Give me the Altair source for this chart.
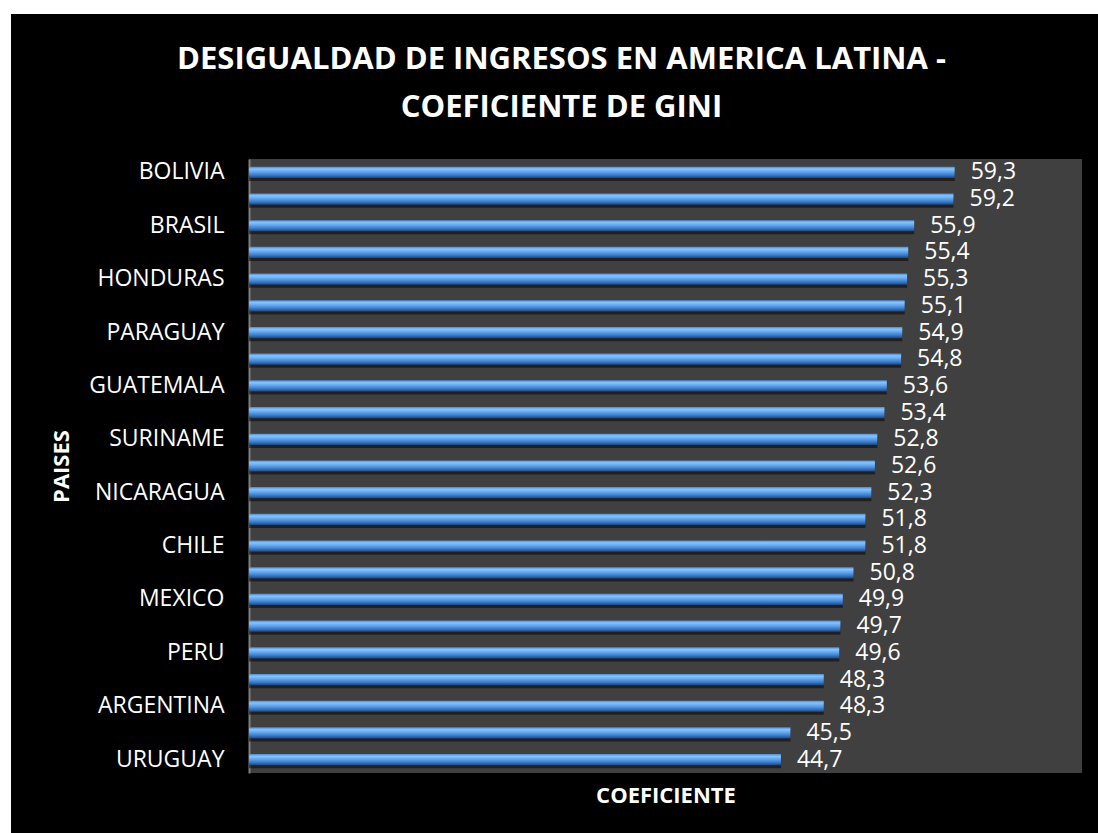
import altair as alt
import pandas as pd

paises = [
    "BOLIVIA", "HAITI", "BRASIL", "COLOMBIA", "HONDURAS", "PANAMA",
    "PARAGUAY", "ECUADOR", "GUATEMALA", "REP. DOMINICANA", "SURINAME",
    "GUYANA", "NICARAGUA", "COSTA RICA", "CHILE", "EL SALVADOR", "MEXICO",
    "JAMAICA", "PERU", "VENEZUELA", "ARGENTINA", "TRINIDAD Y TOBAGO", "URUGUAY",
]
gini = [59.3, 59.2, 55.9, 55.4, 55.3, 55.1, 54.9, 54.8, 53.6, 53.4, 52.8,
        52.6, 52.3, 51.8, 51.8, 50.8, 49.9, 49.7, 49.6, 48.3, 48.3, 45.5, 44.7]
etiquetas_visibles = ["BOLIVIA", "BRASIL", "HONDURAS", "PARAGUAY", "GUATEMALA",
                      "SURINAME", "NICARAGUA", "CHILE", "MEXICO", "PERU",
                      "ARGENTINA", "URUGUAY"]
titulo = ["DESIGUALDAD DE INGRESOS EN AMERICA LATINA -", "COEFICIENTE DE GINI"]

df = pd.DataFrame({"pais": paises, "gini": gini})

W, H = 833, 614
FONT = "Open Sans"

base = alt.Chart(df).transform_calculate(
    lab="replace(format(datum.gini, '.1f'), '.', ',')"
).encode(
    y=alt.Y(
        "pais:N", sort=paises,
        scale=alt.Scale(paddingInner=0.58, paddingOuter=0.29),
        axis=alt.Axis(
            values=etiquetas_visibles, title="PAISES", ticks=False, tickSize=0,
            labelPadding=25, labelFont=FONT, labelFontSize=23, labelColor="white",
            domain=True, domainColor="#7f7f7f", domainWidth=2, grid=False,
            titleFont=FONT, titleFontSize=22, titleFontWeight="bold", titleColor="white",
            titleAngle=270, titleX=-188, titleY=H / 2, titleAlign="center",
            titleBaseline="middle",
        ),
    ),
    x=alt.X(
        "gini:Q", scale=alt.Scale(domain=[0, 70], nice=False, zero=True),
        axis=alt.Axis(
            title="COEFICIENTE", labels=False, ticks=False, domain=False, grid=False,
            titleFont=FONT, titleFontSize=22, titleFontWeight="bold", titleColor="white",
            titleY=29, titleBaseline="alphabetic",
        ),
    ),
)

sombra = base.mark_bar(color="black", opacity=0.5, yOffset=3)

grad = alt.Gradient(
    gradient="linear",
    stops=[
        alt.GradientStop(offset=0, color="#4a8ad6"),
        alt.GradientStop(offset=0.2, color="#86c4fb"),
        alt.GradientStop(offset=0.45, color="#62a6ee"),
        alt.GradientStop(offset=0.75, color="#3a78c6"),
        alt.GradientStop(offset=1, color="#1d467f"),
    ],
    x1=0, x2=0, y1=0, y2=1,
)
barras = base.mark_bar(color=grad)

textos = base.mark_text(
    align="left", baseline="middle", dx=16, font=FONT, fontSize=23, color="white"
).encode(text="lab:N")

uno = pd.DataFrame({"k": [0]})
marco_sup = alt.Chart(uno).mark_rect(color="white").encode(
    x=alt.value(-249), x2=alt.value(W + 16), y=alt.value(-159), y2=alt.value(-145)
)
marco_izq = alt.Chart(uno).mark_rect(color="white").encode(
    x=alt.value(-249), x2=alt.value(-238), y=alt.value(-159), y2=alt.value(H + 60)
)

chart = alt.layer(sombra, barras, textos, marco_sup, marco_izq).properties(
    width=W, height=H,
    autosize=alt.AutoSizeParams(type="none"),
    padding={"left": 249, "top": 159, "right": 16, "bottom": 60},
    background="black",
    title=alt.TitleParams(
        text=titulo, font=FONT, fontSize=31, fontWeight="bold", color="white",
        anchor="middle", frame="group", baseline="alphabetic", lineHeight=48,
        offset=-148, dx=-104,
    ),
).configure_view(fill="#404040", stroke=None)

chart.save("out.html", embed_options={"renderer": "svg", "actions": False})
